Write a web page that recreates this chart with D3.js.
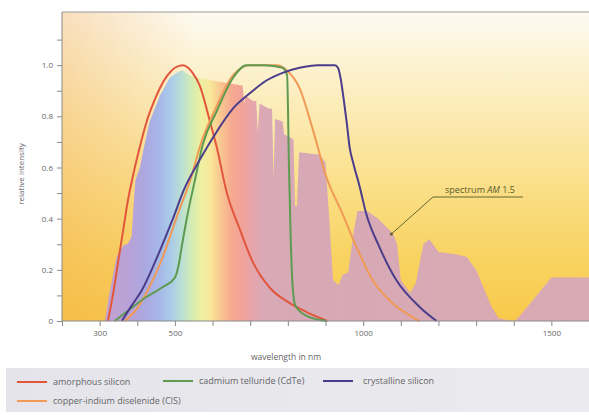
<!DOCTYPE html>
<html lang="en">
<head>
    <meta charset="UTF-8">
    <title>Solar cell spectral response</title>
    <script src="https://d3js.org/d3.v7.min.js"></script>
    <style>
        body { margin: 0; background: #fff; }
        svg text { font-family: "Open Sans", "Noto Sans", sans-serif; fill: #666; }
        .axis path, .axis line { stroke: #8a8a8a; }
    </style>
</head>
<body>
<svg width="589" height="415"></svg>
<script>
// AM 1.5 spectrum, relative intensity by wavelength (nm)
const spectrumNm = [300, 314, 325, 333, 345, 360, 368, 374, 385, 390, 395, 407, 415, 433, 460, 486, 505, 520, 540,
    560, 600, 640, 680, 684, 688, 707, 716, 720, 725, 750, 758, 762, 766, 786, 790, 815, 819, 824, 830, 885,
    900, 910, 920, 935, 945, 960, 975, 985, 1010, 1040, 1080, 1090, 1100, 1125, 1140, 1160, 1176, 1200,
    1250, 1275, 1300, 1340, 1360, 1400, 1410, 1450, 1500, 1550, 1600];
const spectrumVal = [0, 0, 0.1, 0.16, 0.25, 0.29, 0.3, 0.3, 0.33, 0.45, 0.55, 0.6, 0.66, 0.78, 0.88, 0.95, 0.97, 0.98, 0.96,
    0.95, 0.94, 0.93, 0.92, 0.85, 0.88, 0.86, 0.86, 0.74, 0.85, 0.83, 0.83, 0.55, 0.79, 0.78, 0.73, 0.71, 0.45, 0.45, 0.66, 0.65,
    0.62, 0.4, 0.16, 0.14, 0.18, 0.19, 0.35, 0.43, 0.43, 0.4, 0.34, 0.3, 0.16, 0.11, 0.15, 0.3, 0.32, 0.27,
    0.26, 0.25, 0.2, 0.06, 0.01, 0, 0.01, 0.08, 0.17, 0.17, 0.17];

// cell responses
const aSiNm = [322, 335, 349, 362, 375, 386, 405, 425, 445, 460, 480, 500, 521, 535, 547, 566, 593, 611, 638, 672, 707, 752, 805, 850, 880, 905];
const aSiVal = [0, 0.1, 0.23, 0.35, 0.47, 0.55, 0.67, 0.78, 0.86, 0.91, 0.96, 0.99, 1.0, 0.99, 0.97, 0.92, 0.78, 0.68, 0.5, 0.36, 0.23, 0.13, 0.07, 0.035, 0.015, 0];

const cisNm = [367, 400, 428, 465, 508, 545, 566, 611, 654, 699, 770, 797, 831, 866, 903, 945, 982, 1025, 1078, 1131, 1150];
const cisVal = [0, 0.05, 0.12, 0.24, 0.42, 0.57, 0.68, 0.84, 0.96, 1.0, 1.0, 0.98, 0.91, 0.75, 0.56, 0.42, 0.29, 0.16, 0.07, 0.015, 0];

const cdteNm = [340, 375, 420, 465, 500, 510, 518, 534, 553, 574, 611, 654, 690, 740, 786, 798, 803, 808, 813, 820, 850, 903];
const cdteVal = [0, 0.04, 0.09, 0.13, 0.17, 0.22, 0.29, 0.42, 0.55, 0.69, 0.82, 0.95, 1.0, 1.0, 0.99, 0.96, 0.6, 0.3, 0.13, 0.06, 0.02, 0];

const cSiNm = [359, 385, 412, 447, 492, 526, 566, 611, 654, 699, 743, 786, 831, 880, 925, 933, 940, 948, 956, 964, 975, 990, 1008, 1043, 1088, 1150, 1195];
const cSiVal = [0, 0.06, 0.12, 0.23, 0.39, 0.52, 0.63, 0.74, 0.83, 0.89, 0.94, 0.97, 0.99, 1.0, 1.0, 0.99, 0.95, 0.87, 0.78, 0.68, 0.61, 0.53, 0.42, 0.29, 0.16, 0.055, 0];

const yTicks = [0, 0.2, 0.4, 0.6, 0.8, 1.0];
const xTickLabels = [300, 500, 1000, 1500];

const seriesNames = ["amorphous silicon", "cadmium telluride (CdTe)", "crystalline silicon", "copper-indium diselenide (CIS)"];

const svg = d3.select("svg");
const x = d3.scaleLinear().domain([200, 1600]).range([62, 589]);
const y = d3.scaleLinear().domain([0, 1.2]).range([321, 14]);

const defs = svg.append("defs");

// background glow
const bg = defs.append("linearGradient").attr("id", "bg").attr("x1", 0).attr("y1", 0).attr("x2", 0).attr("y2", 1);
[[0, "#fdfaf1"], [0.2, "#fcf1cc"], [0.5, "#fbe294"], [0.78, "#f9d463"], [1, "#f8c94a"]]
    .forEach(s => bg.append("stop").attr("offset", s[0]).attr("stop-color", s[1]));
const bgl = defs.append("linearGradient").attr("id", "bgl").attr("x1", 0).attr("y1", 0).attr("x2", 1).attr("y2", 0);
[[0, "rgba(240,160,70,0.30)"], [0.25, "rgba(240,160,70,0)"], [1, "rgba(255,255,255,0)"]]
    .forEach(s => bgl.append("stop").attr("offset", s[0]).attr("stop-color", s[1]));

svg.append("rect").attr("x", x(200)).attr("y", 12).attr("width", 589 - x(200)).attr("height", y(0) - 12).attr("fill", "url(#bg)");
svg.append("rect").attr("x", x(200)).attr("y", 12).attr("width", 589 - x(200)).attr("height", y(0) - 12).attr("fill", "url(#bgl)");

// rainbow fill for the spectrum
const rainbow = defs.append("linearGradient").attr("id", "rainbow")
    .attr("gradientUnits", "userSpaceOnUse")
    .attr("x1", x(300)).attr("x2", x(1600)).attr("y1", 0).attr("y2", 0);
const rainbowStops = [[300, "#c6a2cc"], [380, "#b8a2d8"], [420, "#aaa8e0"], [460, "#a6b8e8"], [490, "#aacce8"],
    [520, "#bce0d2"], [545, "#d4ecb2"], [570, "#eef0a2"], [595, "#f8e69a"], [620, "#f8c890"], [650, "#f6aa90"],
    [680, "#f0a29a"], [710, "#e4a6ae"], [740, "#d9a9b8"], [800, "#d7a9b6"], [1600, "#d9aab2"]];
rainbowStops.forEach(s => rainbow.append("stop")
    .attr("offset", (x(s[0]) - x(300)) / (x(1600) - x(300)))
    .attr("stop-color", s[1]));

const spectrum = spectrumNm.map((d, i) => ({ nm: d, v: spectrumVal[i] }));
svg.append("path")
    .datum(spectrum)
    .attr("fill", "url(#rainbow)")
    .attr("d", d3.area().x(d => x(d.nm)).y0(y(0)).y1(d => y(d.v)));

// response curves
const curves = [
    { nm: aSiNm, v: aSiVal, color: "#e2563c" },
    { nm: cisNm, v: cisVal, color: "#f09a55" },
    { nm: cdteNm, v: cdteVal, color: "#5e9a52" },
    { nm: cSiNm, v: cSiVal, color: "#4b3d8c" }
];
const line = d3.line().x(d => x(d.nm)).y(d => y(d.v)).curve(d3.curveMonotoneX);
curves.forEach(c => {
    svg.append("path")
        .datum(c.nm.map((d, i) => ({ nm: d, v: c.v[i] })))
        .attr("fill", "none")
        .attr("stroke", c.color)
        .attr("stroke-width", 2)
        .attr("stroke-linejoin", "round")
        .attr("d", line);
});

// frame
svg.append("line").attr("x1", x(200)).attr("x2", 589).attr("y1", 12).attr("y2", 12)
    .attr("stroke", "#9a9a9a").attr("stroke-width", 1.2);

// axes
const xAxis = svg.append("g").attr("class", "axis").attr("transform", `translate(0,${y(0)})`)
    .call(d3.axisBottom(x).tickValues(d3.range(200, 1600, 100)).tickSize(5)
        .tickFormat(d => xTickLabels.includes(d) ? d : ""));
xAxis.select(".domain").attr("d", `M${x(200)},0H589`);
xAxis.selectAll("text").attr("font-size", 8).attr("dy", "0.9em").attr("fill", "#777");

const yAxis = svg.append("g").attr("class", "axis").attr("transform", `translate(${x(200)},0)`)
    .call(d3.axisLeft(y).tickValues(d3.range(0, 1.15, 0.1)).tickSize(5)
        .tickFormat(d => yTicks.some(t => Math.abs(t - d) < 1e-6) ? (d === 0 ? "0" : d3.format(".1f")(d)) : ""));
yAxis.select(".domain").attr("d", `M0,12V${y(0)}`);
yAxis.selectAll("text").attr("font-size", 8).attr("x", -9).attr("fill", "#777");

svg.append("text").attr("x", 286).attr("y", 360).attr("text-anchor", "middle")
    .attr("font-size", 8.5).text("wavelength in nm");
svg.append("text").attr("transform", "translate(24,174) rotate(-90)").attr("text-anchor", "middle")
    .attr("font-size", 8).text("relative intensity");

// annotation
const ann = svg.append("g");
ann.append("path").attr("d", `M523,197H433L${x(1075)},${y(0.34)}`)
    .attr("fill", "none").attr("stroke", "#66662c").attr("stroke-width", 1);
ann.append("circle").attr("cx", x(1075)).attr("cy", y(0.34)).attr("r", 1.6).attr("fill", "#66662c");
const annText = ann.append("text").attr("x", 480).attr("y", 193).attr("text-anchor", "middle")
    .attr("font-size", 9).style("fill", "#5a5a2a");
annText.append("tspan").text("spectrum ");
annText.append("tspan").attr("font-style", "italic").text("AM");
annText.append("tspan").text(" 1.5");

// legend
const lg = defs.append("linearGradient").attr("id", "lg").attr("x1", 0).attr("x2", 1);
lg.append("stop").attr("offset", 0).attr("stop-color", "#e4e4ea");
lg.append("stop").attr("offset", 1).attr("stop-color", "#ebebef");
svg.append("rect").attr("x", 6).attr("y", 368).attr("width", 583).attr("height", 44).attr("fill", "url(#lg)");

const legendPos = [[17, 382], [163, 381], [323, 381], [17, 401]];
const legendColors = ["#e2563c", "#5e9a52", "#4b3d8c", "#f09a55"];
seriesNames.forEach((name, i) => {
    const g = svg.append("g").attr("transform", `translate(${legendPos[i][0]},${legendPos[i][1]})`);
    g.append("line").attr("x1", 0).attr("x2", 30).attr("stroke", legendColors[i]).attr("stroke-width", 2);
    g.append("text").attr("x", i === 2 ? 40 : 36).attr("y", 3).attr("font-size", 9).text(name);
});
</script>
</body>
</html>
